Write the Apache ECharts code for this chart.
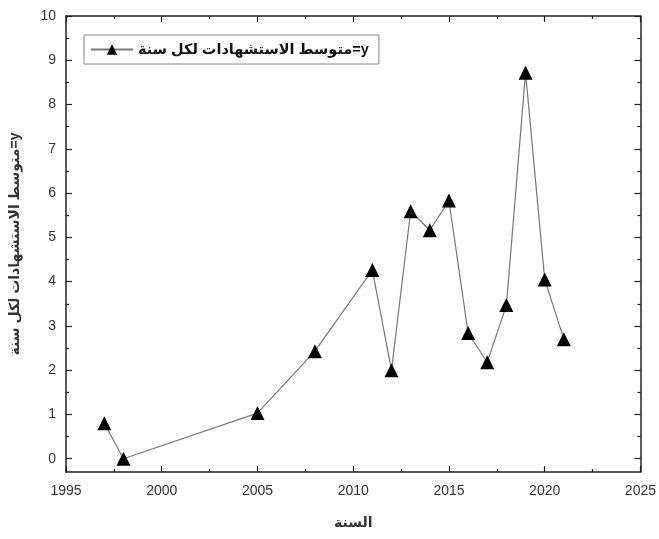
<!DOCTYPE html>
<html><head><meta charset="utf-8">
<script src="https://cdn.jsdelivr.net/npm/echarts@6/dist/echarts.min.js"></script>
<style>html,body{margin:0;padding:0;background:#fff}#c{width:659px;height:539px}</style>
</head><body><div id="c"></div>
<script>
var years = [1997, 1998, 2005, 2008, 2011, 2012, 2013, 2014, 2015, 2016, 2017, 2018, 2019, 2020, 2021];
var values = [0.8, 0.0, 1.03, 2.43, 4.26, 2.0, 5.59, 5.16, 5.83, 2.84, 2.18, 3.47, 8.72, 4.05, 2.7];
var yMajor = [0,1,2,3,4,5,6,7,8,9,10];
var yMinor = [0.5,1.5,2.5,3.5,4.5,5.5,6.5,7.5,8.5,9.5];
var seriesName = 'متوسط الاستشهادات لكل سنة=y';
var xName = 'السنة';
var yName = 'متوسط الاستشهادات لكل سنة=y';

var FONT = '"Liberation Sans", "DejaVu Sans", Arial, sans-serif';
var chart = echarts.init(document.getElementById('c'));
var lineStyleAx = {color: '#222', width: 1.5};
function yAx(pos, ticks, len, showLine, showLabel) {
  return {
    type: 'value', position: pos, min: -0.3, max: 10,
    axisLine: {show: showLine, onZero: false, lineStyle: lineStyleAx},
    axisTick: {show: true, inside: true, length: len, customValues: ticks, lineStyle: {color: '#222', width: 1.2}},
    axisLabel: {show: showLabel, customValues: yMajor, color: '#333', fontSize: 14, fontFamily: FONT, margin: 10},
    splitLine: {show: false}
  };
}
chart.setOption({
  backgroundColor: '#fff',
  animation: false,
  grid: {left: 65, right: 18, top: 16, bottom: 67, containLabel: false},
  legend: {
    left: 84, top: 35, orient: 'horizontal',
    borderColor: '#888', borderWidth: 1, padding: [7, 10, 7, 6], backgroundColor: '#fff',
    itemWidth: 42, itemHeight: 13, itemGap: 4,
    textStyle: {fontSize: 14.5, color: '#111', fontFamily: FONT, fontWeight: 'bold'},
    data: [seriesName]
  },
  xAxis: [{
    type: 'value', min: 1995, max: 2025, interval: 5, position: 'bottom',
    name: xName, nameLocation: 'middle', nameGap: 44,
    nameTextStyle: {fontSize: 14, color: '#333', fontFamily: FONT, fontWeight: 'bold'},
    axisLine: {show: true, onZero: false, lineStyle: lineStyleAx},
    axisTick: {inside: true, length: 6, lineStyle: {color: '#222', width: 1.2}},
    minorTick: {show: true, splitNumber: 2, length: 3, lineStyle: {color: '#222', width: 1.2}},
    axisLabel: {color: '#333', fontSize: 14, fontFamily: FONT, margin: 12, formatter: function (v) { return String(v); }},
    splitLine: {show: false}, minorSplitLine: {show: false}
  }, {
    type: 'value', min: 1995, max: 2025, interval: 5, position: 'top',
    axisLine: {show: true, onZero: false, lineStyle: lineStyleAx},
    axisTick: {inside: true, length: 6, lineStyle: {color: '#222', width: 1.2}},
    minorTick: {show: true, splitNumber: 2, length: 3, lineStyle: {color: '#222', width: 1.2}},
    axisLabel: {show: false},
    splitLine: {show: false}, minorSplitLine: {show: false}
  }],
  yAxis: [
    Object.assign(yAx('left', yMajor, 6, true, true), {
      name: yName, nameLocation: 'middle', nameGap: 44, nameRotate: 90,
      nameTextStyle: {fontSize: 14, color: '#333', fontFamily: FONT, fontWeight: 'bold'}
    }),
    yAx('left', yMinor, 3, false, false),
    yAx('right', yMajor, 6, true, false),
    yAx('right', yMinor, 3, false, false)
  ],
  series: [{
    name: seriesName, type: 'line', xAxisIndex: 0, yAxisIndex: 0,
    data: years.map(function (y, i) { return [y, values[i]]; }),
    symbol: 'triangle', symbolSize: 14,
    itemStyle: {color: '#000'},
    lineStyle: {color: '#777', width: 1.2}
  }]
});
</script></body></html>
